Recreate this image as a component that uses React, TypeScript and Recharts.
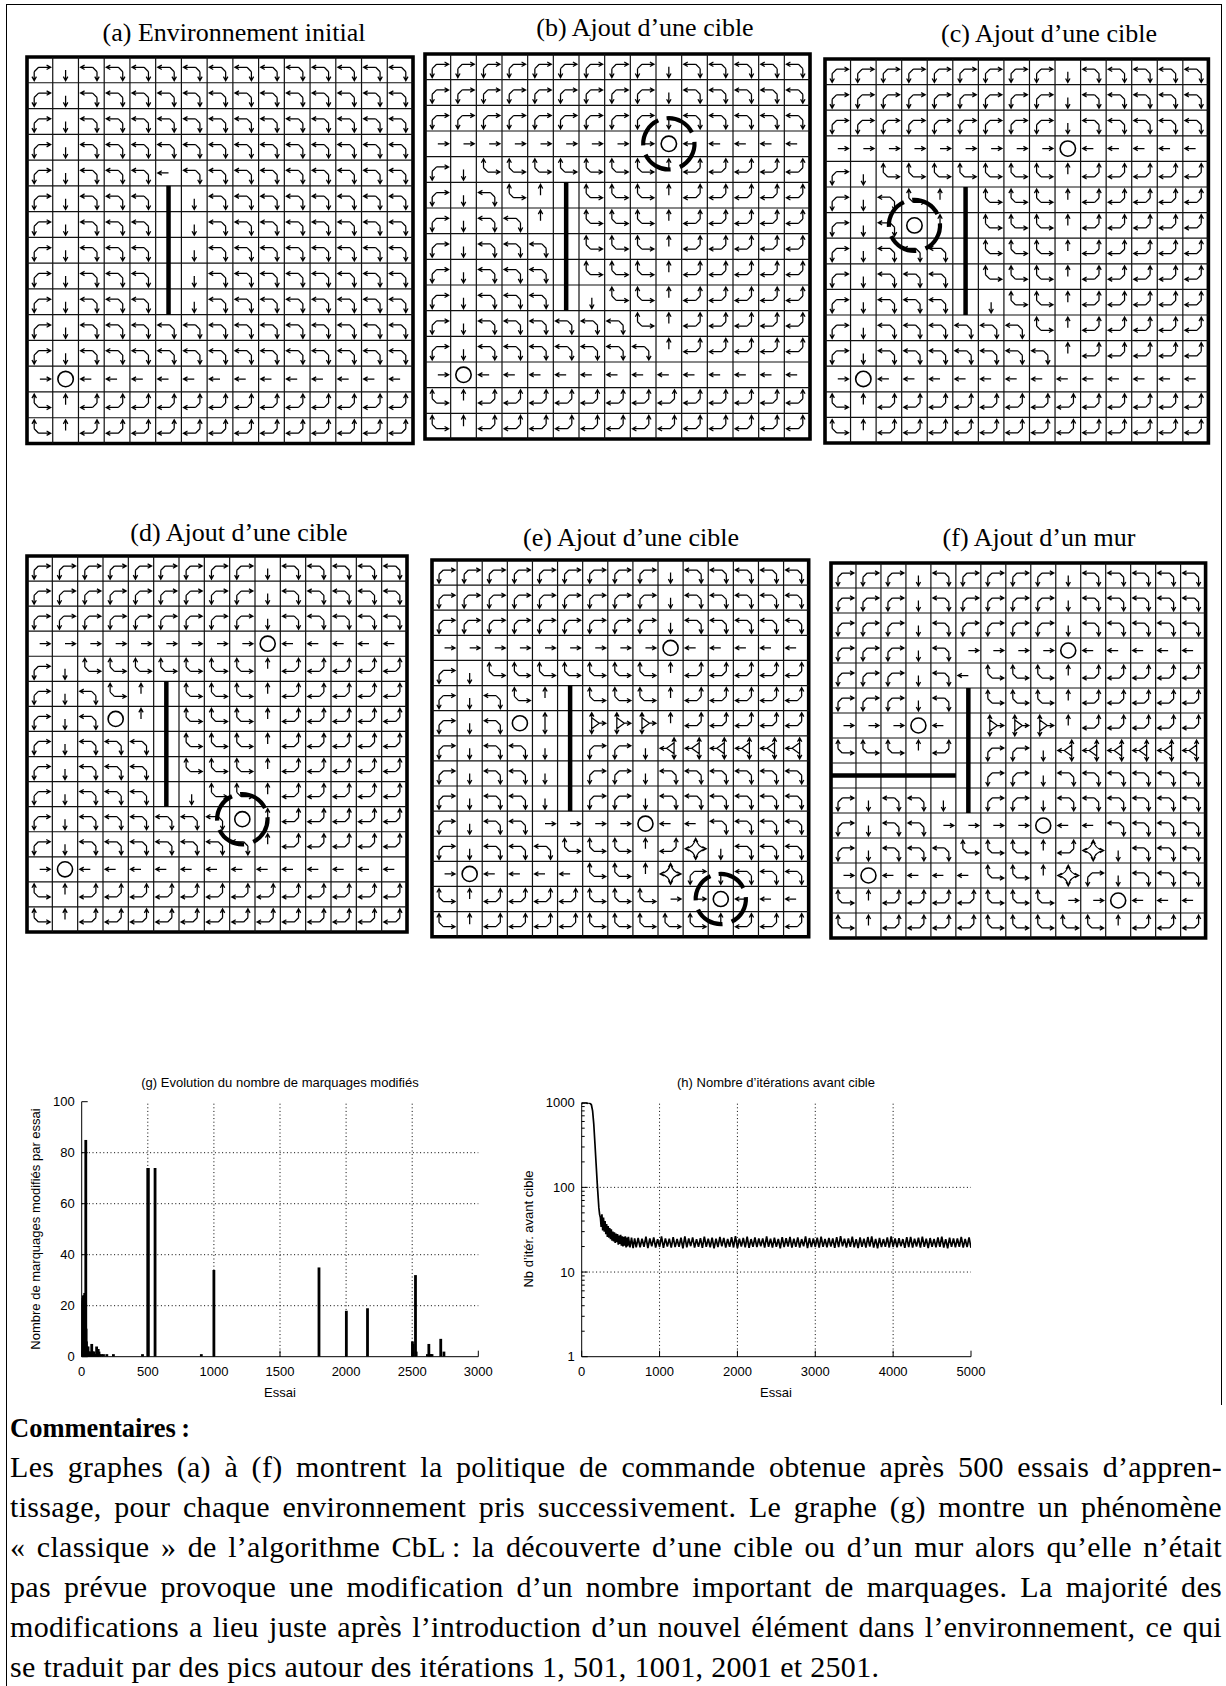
import React from "react";
import {
  ScatterChart,
  Scatter,
  XAxis,
  YAxis,
  ReferenceLine,
  ReferenceArea,
  BarChart,
  Bar,
  LineChart,
  Line,
} from "recharts";

// ---------------- DATA ----------------
// cell codes: a=left+down b=right+down c=left+up d=right+up, U D L R single arrows,
// O target, X four-way, V up+down, T up+down+right, W up+down+left, . empty
const gridA = [
  "bDaaaaaaaaaaaaa",
  "bDaaaaaaaaaaaaa",
  "bDaaaaaaaaaaaaa",
  "bDaaaaaaaaaaaaa",
  "bDaaaLaaaaaaaaa",
  "bDaaa.Daaaaaaaa",
  "bDaaa.Daaaaaaaa",
  "bDaaa.Daaaaaaaa",
  "bDaaa.Daaaaaaaa",
  "bDaaa.Daaaaaaaa",
  "bDaaaaaaaaaaaaa",
  "bDaaaaaaaaaaaaa",
  "ROLLLLLLLLLLLLL",
  "dUccccccccccccc",
  "dUccccccccccccc",
];
const gridB = [
  "bbbbbbbbbDaaaaa",
  "bbbbbbbbbDaaaaa",
  "bbbbbbbbbDaaaaa",
  "RRRRRRRRROLLLLL",
  "bDdddddddUccccc",
  "bDadU.dddUccccc",
  "bDaaU.dddUccccc",
  "bDaaa.dddUccccc",
  "bDaaa.dddUccccc",
  "bDaaa.DddUccccc",
  "bDaaaaaadUccccc",
  "bDaaaaaaaUccccc",
  "ROLLLLLLLLLLLLL",
  "dUccccccccccccc",
  "dUccccccccccccc",
];
const gridC = [
  "bbbbbbbbbDaaaaa",
  "bbbbbbbbbDaaaaa",
  "bbbbbbbbbDaaaaa",
  "RRRRRRRRROLLLLL",
  "bDdddddddUccccc",
  "bDadU.dddUccccc",
  "bDaOU.dddUccccc",
  "bDaaa.dddUccccc",
  "bDaaa.dddUccccc",
  "bDaaa.DddUccccc",
  "bDaaaaaadUccccc",
  "bDaaaaaaaUccccc",
  "ROLLLLLLLLLLLLL",
  "dUccccccccccccc",
  "dUccccccccccccc",
];
const gridD = [
  "bbbbbbbbbDaaaaa",
  "bbbbbbbbbDaaaaa",
  "bbbbbbbbbDaaaaa",
  "RRRRRRRRROLLLLL",
  "bDdddddddUccccc",
  "bDadU.dddUccccc",
  "bDaOU.dddUccccc",
  "bDaaa.dddUccccc",
  "bDaaa.dddUccccc",
  "bDaaa.DddUccccc",
  "bDaaaaaaOUccccc",
  "bDaaaaaaaUccccc",
  "ROLLLLLLLLLLLLL",
  "dUccccccccccccc",
  "dUccccccccccccc",
];
const gridE = [
  "bbbbbbbbbDaaaaa",
  "bbbbbbbbbDaaaaa",
  "bbbbbbbbbDaaaaa",
  "RRRRRRRRROLLLLL",
  "bDdddddddUccccc",
  "bDadU.dddUccccc",
  "bDaOV.TTTUccccc",
  "bDaaD.bbDWWWWWW",
  "bDaaD.bbDaaaaaa",
  "bDaaD.bbDaaaaaa",
  "bDaaRRRROLLaaaa",
  "bDaaadddUcXDaaa",
  "ROLLLLddUXbDaaa",
  "dUccccdddRROLLL",
  "dUccccdddddUccc",
];
const gridF = [
  "bbbDabbbbDaaaaa",
  "bbbDabbbbDaaaaa",
  "bbbDabbbbDaaaaa",
  "bbbDaRRRROLLLLL",
  "bbbDaLdddUccccc",
  "bbbDa.dddUccccc",
  "RRROL.TTTUccccc",
  "dddUc.bbDWWWWWW",
  "......bbDaaaaaa",
  "bDaaD.bbDaaaaaa",
  "bDaaRRRROLLaaaa",
  "bDaaadddUcXDaaa",
  "ROLLLLddUXbDaaa",
  "dUccccdddRROLLL",
  "dUccccdddddUccc",
];

// walls: [x1, y1, x2, y2] in cell units
const wallsMain = [[5.5, 5, 5.5, 10]];
const wallsF = [
  [5.5, 5, 5.5, 10],
  [0, 8.5, 5, 8.5],
];

// newly added element (dashed ring), in cell units (column, row of centre)
const haloB = [{ x: 9.5, y: 3.5 }];
const haloC = [{ x: 3.5, y: 6.5 }];
const haloD = [{ x: 8.5, y: 10.5 }];
const haloE = [{ x: 11.5, y: 13.5 }];

const titles = [
  "(a) Environnement initial",
  "(b) Ajout d\u2019une cible",
  "(c) Ajout d\u2019une cible",
  "(d) Ajout d\u2019une cible",
  "(e) Ajout d\u2019une cible",
  "(f) Ajout d\u2019un mur",
];

// chart (g)
const gTrials = [
  1, 3, 5, 7, 9, 11, 13, 15, 17, 19, 21, 23, 25, 27, 29, 31, 33, 36, 40, 44, 48, 53, 58, 64, 70, 76, 81,
  87, 93, 99, 106, 113, 119, 125, 131, 138, 150, 165, 190, 240, 460, 500, 504, 555, 905, 1000, 1795,
  2002, 2162, 2502, 2507, 2525, 2530, 2615, 2626, 2634, 2642, 2650, 2716, 2740,
];
const gCounts = [
  22, 23, 21, 23, 22, 24, 21, 23, 24, 23, 24, 25, 19, 13, 9, 85, 11, 6, 4, 3, 4, 2, 2, 1, 2, 5, 2, 2, 2,
  1, 1, 4, 3, 3, 2, 1, 1, 1, 1, 1, 1, 74, 74, 74, 1, 34, 35, 18, 19, 6, 5, 32, 2, 1, 5, 1, 1, 1, 7, 2,
];
const gXTicks = [0, 500, 1000, 1500, 2000, 2500, 3000];
const gYTicks = [0, 20, 40, 60, 80, 100];

// chart (h)
const hHeadTrials = [
  0, 10, 30, 50, 70, 90, 110, 125, 140, 155, 170, 185, 200, 210, 220, 230, 240, 250, 260, 270, 280,
  290, 300, 310, 320, 330, 340, 350, 360, 370, 380, 390, 400, 410, 420, 430, 440, 450, 460, 470, 480,
  490, 500, 510, 520, 530, 540, 550, 560, 570, 580, 590, 600, 620, 640, 660, 680, 700,
];
const hHeadIters = [
  960, 1000, 990, 1000, 985, 1000, 980, 940, 800, 560, 330, 190, 110, 80, 58, 48, 44, 34, 48, 31, 44,
  30, 40, 28, 37, 26, 35, 25.5, 33, 24.5, 32, 23.5, 30, 23, 29.5, 22, 28.5, 22.5, 28, 21, 27, 21.5, 27.5,
  20.5, 26.5, 20, 26, 20.5, 26.5, 19.5, 25.5, 20, 26, 19.5, 25.5, 19.2, 25, 19.6,
];
const hTailStart = 725;
const hTailStep = 25;
const hTailIters = [
  25.2, 19.6, 24.7, 19.9, 26.1, 19.2, 24.9, 20.1, 25.6, 19.5, 24.5, 19.8, 26.3, 19.3, 25.0, 20.0, 24.8, 19.4, 25.9, 19.7,
  24.6, 19.9, 25.4, 19.1, 26.4, 19.6, 24.9, 20.2, 25.7, 19.5, 24.5, 19.8, 25.1, 19.3, 26.2, 19.9, 24.8, 19.6, 25.5, 19.0,
  24.7, 19.7, 26.0, 20.1, 25.3, 19.4, 24.6, 19.8, 25.8, 19.5, 26.5, 19.2, 24.8, 20.0, 25.2, 19.6, 26.1, 19.3, 24.5, 19.9,
  25.6, 19.7, 24.9, 20.2, 25.0, 19.4, 26.3, 19.8, 24.7, 19.5, 25.4, 19.9, 24.6, 19.1, 25.9, 19.7, 25.1, 20.0, 26.0, 19.4,
  24.8, 19.8, 25.7, 19.5, 24.5, 20.1, 26.4, 19.2, 25.2, 19.7, 24.9, 19.9, 25.5, 19.4, 26.2, 19.8, 24.6, 19.6, 25.3, 20.0,
  24.9, 19.3, 25.8, 19.7, 26.5, 20.1, 24.7, 19.5, 25.0, 19.9, 26.1, 19.6, 24.5, 19.2, 25.6, 19.8, 24.8, 19.5, 25.9, 20.0,
  26.3, 19.4, 24.6, 19.1, 25.3, 19.7, 24.5, 19.9, 25.7, 19.5, 26.4, 19.8, 24.9, 19.6, 25.1, 20.1, 24.5, 19.3, 25.8, 19.7,
  26.0, 19.5, 24.7, 20.0, 25.4, 19.4, 26.2, 19.9, 24.8, 19.2, 25.2, 19.8, 24.6, 19.6, 25.6, 19.9, 26.1, 19.5, 24.5, 19.1,
  25.5, 19.8, 24.9, 19.6, 25.0, 19.9, 26.0, 19.4, 24.6, 19.7, 25.7, 19.3,
];
const hXTicks = [0, 1000, 2000, 3000, 4000, 5000];
const hYMajor = [1, 10, 100, 1000];
const hYMinor = [2, 3, 4, 5, 6, 7, 8, 9, 20, 30, 40, 50, 60, 70, 80, 90, 200, 300, 400, 500, 600, 700, 800, 900];

const commentHeading = "Commentaires\u202F:";
const commentLines = [
  "Les graphes (a) \u00e0 (f) montrent la politique de commande obtenue apr\u00e8s 500 essais d\u2019appren-",
  "tissage, pour chaque environnement pris successivement. Le graphe (g) montre un ph\u00e9nom\u00e8ne",
  "\u00ab\u00a0classique\u00a0\u00bb de l\u2019algorithme CbL\u202F: la d\u00e9couverte d\u2019une cible ou d\u2019un mur alors qu\u2019elle n\u2019\u00e9tait",
  "pas pr\u00e9vue provoque une modification d\u2019un nombre important de marquages. La majorit\u00e9 des",
  "modifications a lieu juste apr\u00e8s l\u2019introduction d\u2019un nouvel \u00e9l\u00e9ment dans l\u2019environnement, ce qui",
  "se traduit par des pics autour des it\u00e9rations 1, 501, 1001, 2001 et 2501.",
];

// ---------------- LAYOUT ----------------
const panelBoxes = [
  { x: 27, y: 56.5, w: 386, h: 386.5, tx: 234, ty: 33 },
  { x: 424.7, y: 54, w: 385, h: 385, tx: 645, ty: 28 },
  { x: 825.3, y: 59.3, w: 383.4, h: 384, tx: 1049, ty: 34 },
  { x: 26.7, y: 555.7, w: 380, h: 376, tx: 239, ty: 533 },
  { x: 432, y: 560, w: 376.7, h: 376.7, tx: 631, ty: 538 },
  { x: 830.7, y: 563.3, w: 374.6, h: 375, tx: 1039, ty: 538 },
];
const panelGrids = [gridA, gridB, gridC, gridD, gridE, gridF];
const panelWalls = [wallsMain, wallsMain, wallsMain, wallsMain, wallsMain, wallsF];
const panelHalos = [null, haloB, haloC, haloD, haloE, null];

const SERIF = "'Liberation Serif', 'Times New Roman', serif";
const SANS = "'Liberation Sans', Arial, sans-serif";

// ---------------- GLYPHS ----------------
type Pt = [number, number];
const f = (n: number) => n.toFixed(2);
function seg(a: Pt, b: Pt) {
  return `M${f(a[0])} ${f(a[1])}L${f(b[0])} ${f(b[1])}`;
}
function head(a: Pt, b: Pt, hl: number) {
  const dx = b[0] - a[0];
  const dy = b[1] - a[1];
  const len = Math.hypot(dx, dy) || 1;
  const bx = -dx / len;
  const by = -dy / len;
  const ang = 0.5;
  const c = Math.cos(ang);
  const s = Math.sin(ang);
  const p1: Pt = [b[0] + hl * (bx * c - by * s), b[1] + hl * (bx * s + by * c)];
  const p2: Pt = [b[0] + hl * (bx * c + by * s), b[1] + hl * (-bx * s + by * c)];
  return `M${f(p1[0])} ${f(p1[1])}L${f(b[0])} ${f(b[1])}L${f(p2[0])} ${f(p2[1])}`;
}
function arrow(a: Pt, b: Pt, hl: number) {
  return seg(a, b) + head(a, b, hl);
}

function glyphPath(code: string, cx: number, cy: number, u: number) {
  const P = (x: number, y: number): Pt => [cx + x * u, cy + y * u];
  const hl = 0.18 * u;
  const corner = (sx: number, sy: number) => {
    const h1 = P(-0.05 * sx, -0.1 * sy);
    const h2 = P(0.42 * sx, -0.1 * sy);
    const v1 = P(-0.22 * sx, 0.07 * sy);
    const v2 = P(-0.22 * sx, 0.42 * sy);
    return arrow(h1, h2, hl) + seg(h1, v1) + arrow(v1, v2, hl);
  };
  const tri = (s: number) => {
    const x0 = -0.14 * s;
    return (
      arrow(P(x0, 0), P(x0, -0.42), hl) +
      arrow(P(x0, 0), P(x0, 0.42), hl) +
      seg(P(x0, -0.22), P(0.16 * s, 0)) +
      seg(P(0.16 * s, 0), P(x0, 0.22)) +
      arrow(P(0.16 * s, 0), P(0.42 * s, 0), hl)
    );
  };
  switch (code) {
    case "L":
      return arrow(P(0, 0), P(-0.42, 0), hl);
    case "R":
      return arrow(P(0, 0), P(0.42, 0), hl);
    case "U":
      return arrow(P(0, 0), P(0, -0.42), hl);
    case "D":
      return arrow(P(0, 0), P(0, 0.42), hl);
    case "a":
      return corner(-1, 1);
    case "b":
      return corner(1, 1);
    case "c":
      return corner(-1, -1);
    case "d":
      return corner(1, -1);
    case "V":
      return arrow(P(0, 0), P(0, -0.42), hl) + arrow(P(0, 0), P(0, 0.42), hl);
    case "T":
      return tri(1);
    case "W":
      return tri(-1);
    case "X": {
      const star =
        `M${f(P(0.42, 0)[0])} ${f(P(0.42, 0)[1])}` +
        `Q${f(P(0.06, 0.06)[0])} ${f(P(0.06, 0.06)[1])} ${f(P(0, 0.42)[0])} ${f(P(0, 0.42)[1])}` +
        `Q${f(P(-0.06, 0.06)[0])} ${f(P(-0.06, 0.06)[1])} ${f(P(-0.42, 0)[0])} ${f(P(-0.42, 0)[1])}` +
        `Q${f(P(-0.06, -0.06)[0])} ${f(P(-0.06, -0.06)[1])} ${f(P(0, -0.42)[0])} ${f(P(0, -0.42)[1])}` +
        `Q${f(P(0.06, -0.06)[0])} ${f(P(0.06, -0.06)[1])} ${f(P(0.42, 0)[0])} ${f(P(0.42, 0)[1])}`;
      return (
        star +
        head(P(0, 0), P(0.42, 0), hl) +
        head(P(0, 0), P(-0.42, 0), hl) +
        head(P(0, 0), P(0, 0.42), hl) +
        head(P(0, 0), P(0, -0.42), hl)
      );
    }
    default:
      return "";
  }
}

function toCells(rows: string[]) {
  const out: { x: number; y: number; code: string }[] = [];
  rows.forEach((row, r) => {
    row.split("").forEach((code, c) => {
      if (code !== ".") out.push({ x: c + 0.5, y: r + 0.5, code });
    });
  });
  return out;
}

const gridLines = [1, 2, 3, 4, 5, 6, 7, 8, 9, 10, 11, 12, 13, 14];

function GridPanel({ idx }: { idx: number }) {
  const box = panelBoxes[idx];
  const pad = 8;
  const u = (box.w + box.h) / 30;
  const cells = toCells(panelGrids[idx]);
  const halo = panelHalos[idx];
  const renderCell = (props: any) => {
    const { cx, cy, payload } = props;
    if (payload.code === "O") {
      return <circle cx={cx} cy={cy} r={0.3 * u} fill="#fff" stroke="#000" strokeWidth={1.6} />;
    }
    return (
      <path
        d={glyphPath(payload.code, cx, cy, u)}
        fill="none"
        stroke="#000"
        strokeWidth={1.25}
        strokeLinejoin="miter"
      />
    );
  };
  const renderHalo = (props: any) => {
    const { cx, cy } = props;
    const r = 1.0 * u;
    const C = 2 * Math.PI * r;
    return (
      <circle
        cx={cx}
        cy={cy}
        r={r}
        fill="none"
        stroke="#000"
        strokeWidth={4.2}
        strokeDasharray={`${0.19 * C} ${0.06 * C}`}
        transform={`rotate(-95 ${cx} ${cy})`}
      />
    );
  };
  return (
    <div style={{ position: "absolute", left: box.x - pad, top: box.y - pad }}>
      <ScatterChart
        width={box.w + 2 * pad}
        height={box.h + 2 * pad}
        margin={{ top: pad, right: pad, bottom: pad, left: pad }}
      >
        <XAxis type="number" dataKey="x" domain={[0, 15]} hide />
        <YAxis type="number" dataKey="y" domain={[0, 15]} reversed hide />
        {gridLines.map((k) => (
          <ReferenceLine key={"v" + k} x={k} stroke="#111" strokeWidth={1.2} />
        ))}
        {gridLines.map((k) => (
          <ReferenceLine key={"h" + k} y={k} stroke="#111" strokeWidth={1.2} />
        ))}
        <ReferenceArea x1={0} x2={15} y1={0} y2={15} fill="none" fillOpacity={0} stroke="#000" strokeWidth={3.6} />
        {panelWalls[idx].map((w, i) => (
          <ReferenceLine
            key={"w" + i}
            segment={[
              { x: w[0], y: w[1] },
              { x: w[2], y: w[3] },
            ]}
            stroke="#000"
            strokeWidth={4.5}
          />
        ))}
        <Scatter data={cells} shape={renderCell} isAnimationActive={false} />
        {halo && <Scatter data={halo} shape={renderHalo} isAnimationActive={false} />}
      </ScatterChart>
    </div>
  );
}

// ---------------- GNUPLOT-STYLE TICKS ----------------
const TICK_FONT = 13;
const makeBottomTick = (len: number) => (props: any) => {
  const { x, y, payload } = props;
  return (
    <g>
      <line x1={x} y1={y} x2={x} y2={y - len} stroke="#000" strokeWidth={1} />
      <text x={x} y={y + 19.5} textAnchor="middle" fontSize={TICK_FONT} fontFamily={SANS} fill="#000">
        {payload.value}
      </text>
    </g>
  );
};
const makeTopTick = (len: number) => (props: any) => {
  const { x, y } = props;
  return <line x1={x} y1={y} x2={x} y2={y + len} stroke="#000" strokeWidth={1} />;
};
const makeLeftTick = (majors: number[] | null) => (props: any) => {
  const { x, y, payload } = props;
  const isMajor = !majors || majors.includes(payload.value);
  return (
    <g>
      <line x1={x} y1={y} x2={x + (isMajor ? 6 : 3)} y2={y} stroke="#000" strokeWidth={1} />
      {isMajor && (
        <text x={x - 7} y={y + 4.6} textAnchor="end" fontSize={TICK_FONT} fontFamily={SANS} fill="#000">
          {payload.value}
        </text>
      )}
    </g>
  );
};
const makeRightTick = (majors: number[] | null) => (props: any) => {
  const { x, y, payload } = props;
  const isMajor = !majors || majors.includes(payload.value);
  return <line x1={x} y1={y} x2={x - (isMajor ? 6 : 3)} y2={y} stroke="#000" strokeWidth={1} />;
};

const dotted = { stroke: "#000", strokeWidth: 1, strokeDasharray: "1 2.6" };

// impulse-style bar: fixed 2.8px width centred on the bar's own x position
const ImpulseBar = (props: any) => {
  const { x, y, width, height } = props;
  if (!height || height <= 0) return null;
  const mid = x + width / 2;
  return <rect x={mid - 1.4} y={y} width={2.8} height={height} fill="#000" />;
};

function ChartG() {
  const data = gTrials.map((t, i) => ({ trial: t, count: gCounts[i] }));
  return (
    <div style={{ position: "absolute", left: 15, top: 1065 }}>
      <BarChart width={480} height={335} data={data} margin={{ top: 36.7, right: 16.7, bottom: 13.3, left: 10 }}>
        <XAxis
          type="number"
          dataKey="trial"
          domain={[0, 3000]}
          ticks={gXTicks}
          interval={0}
          tickSize={0}
          tickMargin={0}
          tickLine={false}
          tick={makeBottomTick(6)}
          axisLine={{ stroke: "#000" }}
          height={30}
          allowDataOverflow
        />
        <XAxis
          xAxisId="top"
          orientation="top"
          type="number"
          domain={[0, 3000]}
          ticks={gXTicks}
          interval={0}
          tickSize={0}
          tickMargin={0}
          tickLine={false}
          tick={makeTopTick(6)}
          axisLine={{ stroke: "#000" }}
          height={0}
        />
        <YAxis
          type="number"
          domain={[0, 100]}
          ticks={gYTicks}
          interval={0}
          tickSize={0}
          tickMargin={0}
          tickLine={false}
          tick={makeLeftTick(null)}
          axisLine={{ stroke: "#000" }}
          width={56.7}
          allowDataOverflow
        />
        <YAxis
          yAxisId="right"
          orientation="right"
          type="number"
          domain={[0, 100]}
          ticks={gYTicks}
          interval={0}
          tickSize={0}
          tickMargin={0}
          tickLine={false}
          tick={makeRightTick(null)}
          axisLine={{ stroke: "#000" }}
          width={0}
        />
        {[500, 1000, 1500, 2000, 2500].map((v) => (
          <ReferenceLine key={"gx" + v} x={v} {...dotted} />
        ))}
        {[20, 40, 60, 80].map((v) => (
          <ReferenceLine key={"gy" + v} y={v} {...dotted} />
        ))}
        <Bar dataKey="count" fill="#000" barSize={3} shape={ImpulseBar} isAnimationActive={false} />
      </BarChart>
    </div>
  );
}

function ChartH() {
  const data = [
    ...hHeadTrials.map((t, i) => ({ trial: t, iters: hHeadIters[i] })),
    ...hTailIters.map((v, i) => ({ trial: hTailStart + i * hTailStep, iters: v })),
  ];
  const yTicks = [...hYMajor, ...hYMinor].sort((a, b) => a - b);
  return (
    <div style={{ position: "absolute", left: 515, top: 1065 }}>
      <LineChart width={480} height={335} data={data} margin={{ top: 37.7, right: 24, bottom: 13.3, left: 10 }}>
        <XAxis
          type="number"
          dataKey="trial"
          domain={[0, 5000]}
          ticks={hXTicks}
          interval={0}
          tickSize={0}
          tickMargin={0}
          tickLine={false}
          tick={makeBottomTick(6)}
          axisLine={{ stroke: "#000" }}
          height={30}
          allowDataOverflow
        />
        <XAxis
          xAxisId="top"
          orientation="top"
          type="number"
          domain={[0, 5000]}
          ticks={hXTicks}
          interval={0}
          tickSize={0}
          tickMargin={0}
          tickLine={false}
          tick={makeTopTick(6)}
          axisLine={{ stroke: "#000" }}
          height={0}
        />
        <YAxis
          type="number"
          scale="log"
          domain={[1, 1000]}
          ticks={yTicks}
          interval={0}
          tickSize={0}
          tickMargin={0}
          tickLine={false}
          tick={makeLeftTick(hYMajor)}
          axisLine={{ stroke: "#000" }}
          width={56.7}
          allowDataOverflow
        />
        <YAxis
          yAxisId="right"
          orientation="right"
          type="number"
          scale="log"
          domain={[1, 1000]}
          ticks={yTicks}
          interval={0}
          tickSize={0}
          tickMargin={0}
          tickLine={false}
          tick={makeRightTick(hYMajor)}
          axisLine={{ stroke: "#000" }}
          width={0}
          allowDataOverflow
        />
        {[1000, 2000, 3000, 4000].map((v) => (
          <ReferenceLine key={"hx" + v} x={v} {...dotted} />
        ))}
        {[10, 100].map((v) => (
          <ReferenceLine key={"hy" + v} y={v} {...dotted} />
        ))}
        <Line dataKey="iters" stroke="#000" strokeWidth={1.7} dot={false} isAnimationActive={false} />
      </LineChart>
    </div>
  );
}

const abs = (x: number, y: number, extra: React.CSSProperties = {}): React.CSSProperties => ({
  position: "absolute",
  left: x,
  top: y,
  transform: "translate(-50%, -50%)",
  whiteSpace: "nowrap",
  ...extra,
});

export default function App() {
  const lineTops = [1467, 1507, 1547, 1587, 1627, 1667];
  return (
    <div
      style={{
        position: "absolute",
        left: 0,
        top: 0,
        width: 1226,
        height: 1686,
        background: "#fff",
        overflow: "hidden",
        color: "#000",
      }}
    >
      {/* outer frame */}
      <div
        style={{
          position: "absolute",
          left: 6,
          top: 4,
          width: 1214,
          height: 1400,
          borderLeft: "1.5px solid #000",
          borderTop: "1.5px solid #000",
          borderRight: "1.5px solid #000",
        }}
      />
      <div style={{ position: "absolute", left: 6, top: 1404, width: 0, height: 290, borderLeft: "1.5px solid #000" }} />

      {titles.map((t, i) => (
        <div key={t + i} style={abs(panelBoxes[i].tx, panelBoxes[i].ty, { fontFamily: SERIF, fontSize: 26, lineHeight: "26px" })}>
          {t}
        </div>
      ))}
      {panelBoxes.map((_, i) => (
        <GridPanel key={i} idx={i} />
      ))}

      <div style={abs(280, 1081.7, { fontFamily: SANS, fontSize: 13 })}>(g) Evolution du nombre de marquages modifiés</div>
      <div style={abs(35, 1229, { fontFamily: SANS, fontSize: 13, transform: "translate(-50%, -50%) rotate(-90deg)" })}>
        Nombre de marquages modifiés par essai
      </div>
      <div style={abs(280, 1392, { fontFamily: SANS, fontSize: 13 })}>Essai</div>
      <ChartG />

      <div style={abs(776, 1081.7, { fontFamily: SANS, fontSize: 13 })}>(h) Nombre d’itérations avant cible</div>
      <div style={abs(528, 1229, { fontFamily: SANS, fontSize: 13, transform: "translate(-50%, -50%) rotate(-90deg)" })}>
        Nb d’itér. avant cible
      </div>
      <div style={abs(776, 1392, { fontFamily: SANS, fontSize: 13 })}>Essai</div>
      <ChartH />

      <div
        style={{
          position: "absolute",
          left: 10,
          top: 1428 - 18,
          fontFamily: SERIF,
          fontSize: 26.5,
          fontWeight: "bold",
          lineHeight: "36px",
          whiteSpace: "nowrap",
        }}
      >
        {commentHeading}
      </div>
      {commentLines.map((ln, i) => (
        <div
          key={i}
          style={{
            position: "absolute",
            left: 10,
            top: lineTops[i] - 18,
            width: 1212,
            fontFamily: SERIF,
            fontSize: 30,
            lineHeight: "36px",
            letterSpacing: 0.3,
            textAlign: "justify",
            textAlignLast: i === commentLines.length - 1 ? "left" : "justify",
            whiteSpace: "nowrap",
          }}
        >
          {ln}
        </div>
      ))}
    </div>
  );
}
